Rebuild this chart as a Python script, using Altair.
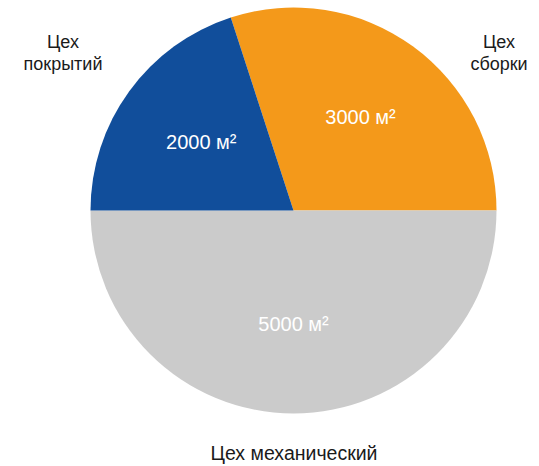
import math
import altair as alt
import pandas as pd

# Data
workshops = ["Цех сборки", "Цех механический", "Цех покрытий"]
workshop_labels = ["Цех\nсборки", "Цех механический", "Цех\nпокрытий"]
areas = [3000, 5000, 2000]
area_labels = ["3000 м²", "5000 м²", "2000 м²"]
slice_order = [0, 1, 2]
colors = ["#F4991A", "#CBCBCB", "#114E9B"]

df = pd.DataFrame({
    "workshop": workshops,
    "name": workshop_labels,
    "area": areas,
    "label": area_labels,
    "ord": slice_order,
})

FONT = "Liberation Sans"
R = 203
start = -math.pi / 10
theta_scale = alt.Scale(domain=[0, sum(areas)], range=[start, start + 2 * math.pi])

base = alt.Chart(df).encode(
    theta=alt.Theta("area:Q", stack=True, scale=theta_scale),
    order=alt.Order("ord:Q"),
)

arcs = base.mark_arc(outerRadius=R).encode(
    color=alt.Color("workshop:N", scale=alt.Scale(domain=workshops, range=colors), legend=None)
)

inner = base.mark_text(radius=114, fontSize=20, font=FONT, color="white",
                       align="center", baseline="middle").encode(text="label:N")

outer_pos = {
    "Цех сборки": (408.5, 40.5, 18),
    "Цех покрытий": (-27.5, 40.5, 18),
    "Цех механический": (203.5, 452.5, 19.5),
}
outer_layers = []
for w, (px, py, fs) in outer_pos.items():
    outer_layers.append(
        alt.Chart(df).transform_filter(alt.datum.workshop == w)
        .mark_text(fontSize=fs, font=FONT, color="#1a1a1a", align="center",
                   baseline="alphabetic", lineBreak="\n", lineHeight=22)
        .encode(text="name:N", x=alt.value(px), y=alt.value(py))
    )

chart = alt.layer(arcs, inner, *outer_layers).properties(
    width=2 * R,
    height=2 * R,
    autosize=alt.AutoSizeParams(type="none"),
    padding={"left": 90.5, "top": 7.5, "right": 539 - 90.5 - 2 * R, "bottom": 466 - 7.5 - 2 * R},
    background="white",
).configure_view(stroke=None)

chart.save("out.html", embed_options={"renderer": "svg", "actions": False})
